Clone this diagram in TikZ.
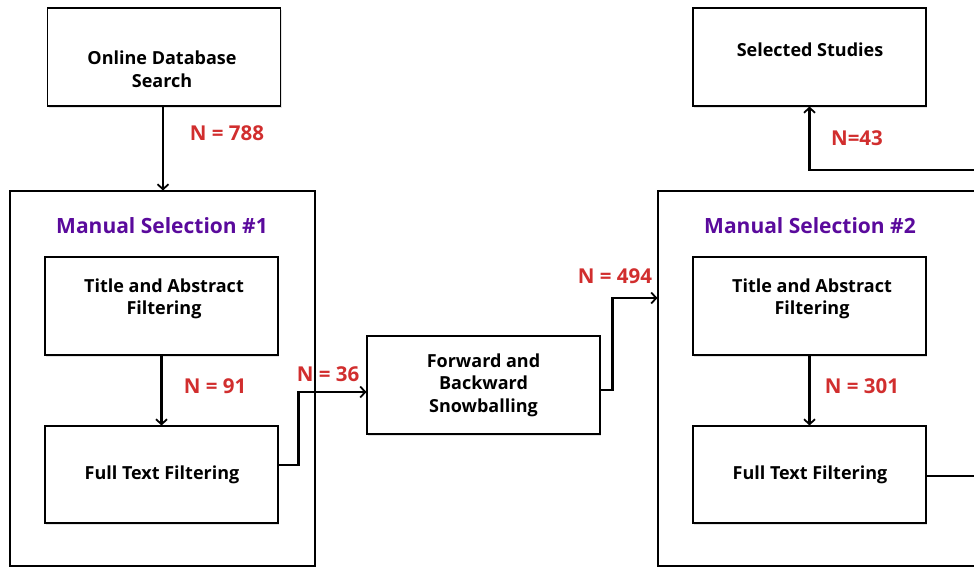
\documentclass[tikz,border=0pt]{standalone}
\usepackage{fontspec}
\setmainfont{Open Sans}
\usetikzlibrary{arrows.meta,shadows,calc}
\definecolor{nred}{HTML}{D12E2E}
\definecolor{mpurple}{HTML}{5A0A9C}
\begin{document}
\begin{tikzpicture}[x=1pt,y=-1pt,
  boxnode/.style={draw=black,line width=1.1pt,fill=white,minimum width=233pt,minimum height=98pt,inner sep=0pt,
    drop shadow={opacity=0.22,shadow xshift=1.2pt,shadow yshift=-1.8pt}},
  framenode/.style={draw=black,line width=1.1pt,inner sep=0pt},
  btext/.style={font=\fontsize{18}{22.5}\selectfont\bfseries,align=center,inner sep=0pt},
  ttext/.style={font=\fontsize{21}{25}\selectfont\bfseries,text=mpurple,inner sep=0pt},
  nlab/.style={font=\fontsize{20.5}{24}\selectfont\bfseries,text=nred,inner sep=0pt},
  conn/.style={line width=2.4pt,-{Straight Barb[length=5pt,width=11pt,line width=1.8pt]}},
  vconn/.style={line width=2.1pt,-{Straight Barb[length=5pt,width=11pt,line width=1.8pt]}}]
\useasboundingbox (0,0) rectangle (974,568);
\clip (0,0) rectangle (974,568);
% containers
\node[framenode,minimum width=305pt,minimum height=375pt] (cont1) at (162.5,378.5) {};
\node[framenode,minimum width=337pt,minimum height=375pt] (cont2) at (826.5,378.5) {};
\node[ttext] (t1) at (162,226) {Manual Selection \#1};
\node[ttext] (t2) at (810,226) {Manual Selection \#2};
% boxes
\node[boxnode] (ods) at (164,57) {};
\node[btext] (odsT) at (162,69) {Online Database\\Search};
\node[boxnode] (ta1) at (161.5,306) {};
\node[btext] (ta1T) at (164,299) {Title and Abstract\\Filtering};
\node[boxnode,minimum height=97pt] (ft1) at (161.5,474.5) {};
\node[btext] (ft1T) at (162,475) {Full Text Filtering};
\node[boxnode] (snow) at (483.5,385) {};
\node[btext] (snowT) at (483.5,385) {Forward and\\Backward\\Snowballing};
\node[boxnode] (ta2) at (809.5,306) {};
\node[btext] (ta2T) at (812,299) {Title and Abstract\\Filtering};
\node[boxnode,minimum height=97pt] (ft2) at (809.5,474.5) {};
\node[btext] (ft2T) at (810,475) {Full Text Filtering};
\node[boxnode] (sel) at (809.5,57) {};
\node[btext] (selT) at (810,50) {Selected Studies};
% labels
\node[nlab] (n788) at (227,133) {N = 788};
\node[nlab] (n91) at (215,386) {N = 91};
\node[nlab] (n36) at (328,374) {N = 36};
\node[nlab] (n494) at (615,276) {N = 494};
\node[nlab] (n301) at (862,386) {N = 301};
\node[nlab] (n43) at (857,138) {N=43};
% connectors
\draw[vconn] (ods.south -| 163,0) -- (cont1.north -| 163,0);
\draw[vconn] (ta1.south) -- (ft1.north);
\draw[vconn] (ta2.south) -- (ft2.north);
\draw[conn] ($(ft1.east)+(0,-9.5)$) -- ++(20,0) |- ($(snow.west)+(0,7)$);
\draw[conn] ($(snow.east)+(0,5)$) -- ++(12,0) |- ($(cont2.west)+(0,-80.5)$);
\coordinate (rc) at (990,170);
\draw[conn] ($(ft2.east)+(0,1.5)$) -- (rc |- 0,476) -- (rc) -| (sel.south);
\end{tikzpicture}
\end{document}
